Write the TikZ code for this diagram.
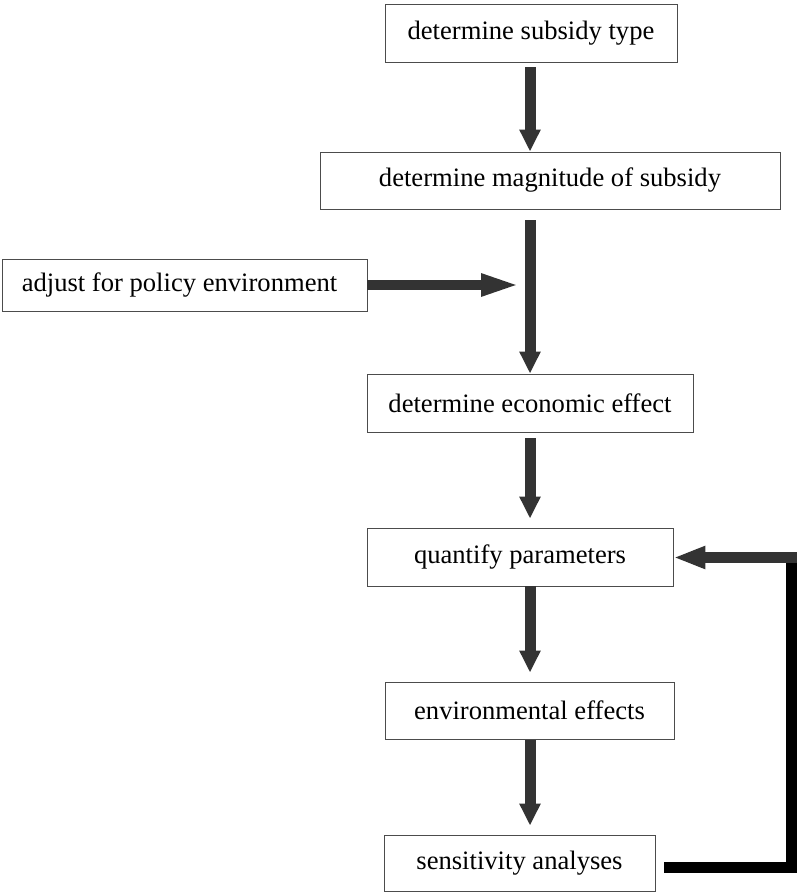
\documentclass[tikz,border=0pt]{standalone}
\usepackage{fontspec}
\setmainfont{Liberation Serif}
\usetikzlibrary{arrows.meta,calc}
\definecolor{arrowgray}{HTML}{333333}
\tikzset{
  box/.style={draw=black!70, line width=0.9pt, fill=white, inner sep=0pt,
    font=\fontsize{26.6}{30}\selectfont},
  vblock/.style={arrowgray, line width=11pt,
    -{Triangle[width=20pt,length=22pt]}},
  hblock/.style={arrowgray, line width=10.5pt,
    -{Triangle[width=20pt,length=40pt]}},
  fbblock/.style={arrowgray, line width=11pt,
    -{Triangle[width=21pt,length=32pt]}},
  fbline/.style={black, line width=11pt, line join=miter}
}
\begin{document}
\begin{tikzpicture}[x=1pt,y=-1pt]
\useasboundingbox (0,0) rectangle (797,893);
\fill[white] (0,0) rectangle (797,893);
\coordinate (ax) at (530,0);
\coordinate (fb) at (791.5,0);
\coordinate (fbr) at (797,0);

\node[box, minimum width=292pt, minimum height=58pt] (b1) at (531,33) {determine subsidy type};
\node[box, minimum width=460pt, minimum height=57pt] (b2) at (550,180.5) {determine magnitude of subsidy};
\node[box, minimum width=365pt, minimum height=52pt] (b3) at (184.5,285) {\hspace*{-10pt}adjust for policy environment};
\node[box, minimum width=326pt, minimum height=58pt] (b4) at (530,403) {determine economic effect};
\node[box, minimum width=306pt, minimum height=58pt] (b5) at (520,557) {quantify parameters};
\node[box, minimum width=289pt, minimum height=57pt] (b6) at (529.5,710.5) {environmental effects};
\node[box, minimum width=271pt, minimum height=56pt] (b7) at (519.5,863) {sensitivity analyses};

\draw[vblock] ($(b1.south -| ax)+(0,5)$) -- (b2.north -| ax);
\draw[vblock] ($(b2.south -| ax)+(0,11)$) -- (b4.north -| ax);
\draw[hblock] (b3.east) -- ($(b3.east -| ax)+(-9,0)$);
\draw[vblock] ($(b4.south -| ax)+(0,6)$) -- ($(b5.north -| ax)+(0,-9)$);
\draw[vblock] (b5.south -| ax) -- ($(b6.north -| ax)+(0,-9)$);
\draw[vblock] ($(b6.south -| ax)+(0,1)$) -- ($(b7.north -| ax)+(0,-9)$);

\draw[fbline] ($(b7.east)+(9,4.5)$) -- ($(fb |- b7.east)+(0,4.5)$) -- ($(fb |- b5.east)+(0,5)$);
\draw[fbblock] ($(fbr |- b5.east)+(0,0.5)$) -- ($(b5.east)+(0,0.5)$);
\end{tikzpicture}
\end{document}
